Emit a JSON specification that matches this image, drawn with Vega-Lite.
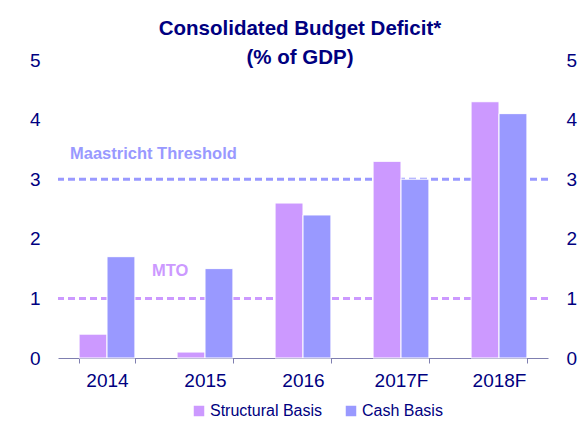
{
  "$schema": "https://vega.github.io/schema/vega-lite/v6.json",
  "autosize": "none",
  "width": 490,
  "height": 298,
  "padding": {"left": 58, "top": 60, "right": 39, "bottom": 72},
  "background": "white",
  "config": {
    "font": "Liberation Sans",
    "view": {"stroke": null}
  },
  "title": {
    "text": ["Consolidated Budget Deficit*", "(% of GDP)"],
    "fontSize": 20.5,
    "fontWeight": "bold",
    "color": "#000080",
    "lineHeight": 29,
    "offset": -17,
    "dx": -3,
    "anchor": "middle"
  },
  "datasets": {
    "bars": [
      {"year": "2014", "series": "Structural Basis", "value": 0.4},
      {"year": "2014", "series": "Cash Basis", "value": 1.7},
      {"year": "2015", "series": "Structural Basis", "value": 0.1},
      {"year": "2015", "series": "Cash Basis", "value": 1.5},
      {"year": "2016", "series": "Structural Basis", "value": 2.6},
      {"year": "2016", "series": "Cash Basis", "value": 2.4},
      {"year": "2017F", "series": "Structural Basis", "value": 3.3},
      {"year": "2017F", "series": "Cash Basis", "value": 3.0},
      {"year": "2018F", "series": "Structural Basis", "value": 4.3},
      {"year": "2018F", "series": "Cash Basis", "value": 4.1}
    ],
    "one": [{"label": "x"}]
  },
  "layer": [
    {
      "data": {"name": "one"},
      "mark": {"type": "rule", "color": "#9999FF", "strokeWidth": 3, "strokeDash": [7, 4]},
      "encoding": {
        "y": {
          "datum": 3,
          "type": "quantitative",
          "scale": {"domain": [0, 5], "nice": false},
          "axis": {
            "orient": "right",
            "values": [0, 1, 2, 3, 4, 5],
            "title": null,
            "grid": false,
            "domain": false,
            "ticks": false,
            "labelPadding": 18,
            "labelFontSize": 19,
            "labelColor": "#000080",
            "labelAlign": "left"
          }
        }
      }
    },
    {
      "data": {"name": "one"},
      "mark": {"type": "rule", "color": "#CC99FF", "strokeWidth": 3, "strokeDash": [7, 4]},
      "encoding": {
        "y": {"datum": 1, "type": "quantitative", "axis": null}
      }
    },
    {
      "data": {"name": "bars"},
      "mark": {"type": "bar", "stroke": "white", "strokeWidth": 1},
      "encoding": {
        "x": {
          "field": "year",
          "type": "nominal",
          "sort": null,
          "scale": {"paddingInner": 0.43, "paddingOuter": 0.215},
          "axis": {
            "title": null,
            "labelAngle": 0,
            "labelFontSize": 19,
            "labelColor": "#000080",
            "labelPadding": 8,
            "domainColor": "#7F7FB0",
            "tickColor": "#7F7FB0",
            "tickSize": 5,
            "tickBand": "extent",
            "grid": false
          }
        },
        "xOffset": {
          "field": "series",
          "type": "nominal",
          "sort": ["Structural Basis", "Cash Basis"],
          "scale": {"paddingInner": 0}
        },
        "y": {
          "field": "value",
          "type": "quantitative",
          "axis": {
            "orient": "left",
            "values": [0, 1, 2, 3, 4, 5],
            "title": null,
            "grid": false,
            "domain": false,
            "ticks": false,
            "labelPadding": 18,
            "labelFontSize": 19,
            "labelColor": "#000080"
          }
        },
        "color": {
          "field": "series",
          "type": "nominal",
          "scale": {"domain": ["Structural Basis", "Cash Basis"], "range": ["#CC99FF", "#9999FF"]},
          "legend": {
            "orient": "none",
            "legendX": 133,
            "legendY": 343,
            "direction": "horizontal",
            "title": null,
            "symbolType": "square",
            "symbolSize": 110,
            "symbolStrokeWidth": 0,
            "labelFontSize": 16,
            "labelColor": "#000080",
            "columnPadding": 20,
            "labelOffset": 3
          }
        }
      }
    },
    {
      "data": {"name": "one"},
      "mark": {"type": "text", "text": "Maastricht Threshold", "align": "left", "baseline": "middle", "fontWeight": "bold", "fontSize": 16.5, "color": "#9999FF", "dx": -37},
      "encoding": {
        "x": {"datum": "2014"},
        "y": {"datum": 3.42, "type": "quantitative", "axis": null}
      }
    },
    {
      "data": {"name": "one"},
      "mark": {"type": "text", "text": "MTO", "align": "left", "baseline": "middle", "fontWeight": "bold", "fontSize": 16.5, "color": "#CC99FF", "dx": -53},
      "encoding": {
        "x": {"datum": "2015"},
        "y": {"datum": 1.46, "type": "quantitative", "axis": null}
      }
    }
  ],
  "resolve": {"axis": {"y": "independent"}}
}
